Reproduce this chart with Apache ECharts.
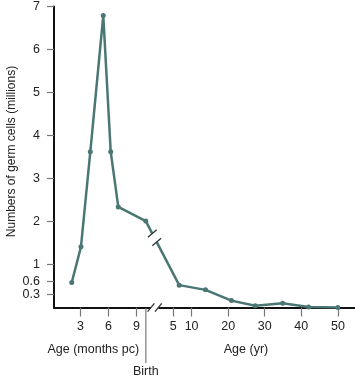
<!DOCTYPE html>
<html><head><meta charset="utf-8">
<script src="https://cdn.jsdelivr.net/npm/echarts@6/dist/echarts.min.js"></script>
<style>html,body{margin:0;padding:0;background:#fff}#c{width:355px;height:379px}</style>
</head><body><div id="c"></div>
<script>
// ---- data ----
const prenatalMonths = [2.06, 3.05, 4.05, 5.44, 6.24, 7.05, 10];
const prenatalCells  = [0.58, 1.41, 3.62, 6.79, 3.62, 2.34, 2.01];
const postnatalYears = [6.6, 13.8, 20.9, 27.4, 34.9, 42, 50];
const postnatalCells = [0.52, 0.41, 0.16, 0.04, 0.10, 0.01, 0.0];
const monthTicks = [3, 6, 9];
const yearTicks  = [5, 10, 20, 30, 40, 50];
const yTicks     = [0.3, 0.6, 1, 2, 3, 4, 5, 6, 7];
const birthMonth = 10;

// ---- broken x axis: months on the left, years on the right ----
const YEAR_OFFSET = 10.99, YEAR_SCALE = 0.3919, BREAK_AT = 10.95;
const yrPos = v => YEAR_OFFSET + v * YEAR_SCALE;

const xTickList = monthTicks.map(m => ({v: m, t: String(m)}))
  .concat(yearTicks.map(y => ({v: yrPos(y), t: String(y)})));
const xTickValues = xTickList.map(d => d.v);
function xLabel(val) {
  let best = xTickList[0];
  xTickList.forEach(d => { if (Math.abs(d.v - val) < Math.abs(best.v - val)) best = d; });
  return best.t;
}

const lineData = prenatalMonths.map((m, i) => [m, prenatalCells[i]])
  .concat(postnatalYears.map((y, i) => [yrPos(y), postnatalCells[i]]));

const FONT = '"Liberation Sans", Arial, sans-serif';
const TXT = '#222';
const LINE = '#4a7674';

const chart = echarts.init(document.getElementById('c'), null, {renderer: 'canvas'});
chart.setOption({
  animation: false,
  backgroundColor: '#fff',
  grid: {left: 54, right: 0, top: 6, bottom: 71.5, containLabel: false},
  xAxis: {
    type: 'value', min: 0.16, max: 32.42,
    axisLine: {show: true, lineStyle: {color: '#111', width: 2}},
    axisTick: {show: true, customValues: xTickValues, length: 9, inside: false, lineStyle: {color: '#777', width: 1.2}},
    axisLabel: {customValues: xTickValues, formatter: xLabel, margin: 13,
      fontFamily: FONT, fontSize: 12.5, color: TXT},
    splitLine: {show: false}
  },
  yAxis: {
    type: 'value', min: 0, max: 7,
    axisLine: {show: true, lineStyle: {color: '#111', width: 2}},
    axisTick: {show: true, customValues: yTicks, length: 7, lineStyle: {color: '#777', width: 1.2}},
    axisLabel: {customValues: yTicks, margin: 14, fontFamily: FONT, fontSize: 12.5, color: TXT},
    splitLine: {show: false}
  },
  series: [{
    type: 'line', data: lineData,
    symbol: 'circle', symbolSize: 5, showSymbol: true,
    lineStyle: {color: LINE, width: 2.5},
    itemStyle: {color: LINE},
    z: 3
  }]
});

// ---- decorations placed through the chart's own coordinate system ----
const px = p => chart.convertToPixel({gridIndex: 0}, p);
const birthPt = px([birthMonth, 0]);
const axisY = birthPt[1];
const brk = px([BREAK_AT, 0]);
const pA = px(lineData[prenatalMonths.length - 1]);
const pB = px(lineData[prenatalMonths.length]);
const t = 0.26;
const gc = [pA[0] + (pB[0] - pA[0]) * t, pA[1] + (pB[1] - pA[1]) * t];
const len = Math.hypot(pB[0] - pA[0], pB[1] - pA[1]);
const ud = [(pB[0] - pA[0]) / len, (pB[1] - pA[1]) / len];
const h = [4.4, -3.7];
const c1 = [gc[0] - ud[0] * 4.75, gc[1] - ud[1] * 4.75];
const c2 = [gc[0] + ud[0] * 4.75, gc[1] + ud[1] * 4.75];
const ah = [3.4, -4.2];
const a1 = [brk[0] - 3.7, axisY];
const a2 = [brk[0] + 3.7, axisY];
const SL = {stroke: '#333', lineWidth: 1.3};

chart.setOption({
  graphic: [
    {type: 'line', shape: {x1: birthPt[0], y1: axisY + 1, x2: birthPt[0], y2: 363}, style: {stroke: '#999', lineWidth: 1.6}, z: 10},
    {type: 'text', x: birthPt[0], y: 372, style: {text: 'Birth', font: '12.5px ' + FONT, fill: TXT, align: 'center', verticalAlign: 'middle'}, z: 10},
    {type: 'rect', shape: {x: a1[0], y: axisY - 2.5, width: a2[0] - a1[0], height: 5}, style: {fill: '#fff'}, z: 10},
    {type: 'line', shape: {x1: a1[0] - ah[0], y1: a1[1] - ah[1], x2: a1[0] + ah[0], y2: a1[1] + ah[1]}, style: SL, z: 11},
    {type: 'line', shape: {x1: a2[0] - ah[0], y1: a2[1] - ah[1], x2: a2[0] + ah[0], y2: a2[1] + ah[1]}, style: SL, z: 11},
    {type: 'polygon', shape: {points: [[c1[0] - h[0], c1[1] - h[1]], [c1[0] + h[0], c1[1] + h[1]], [c2[0] + h[0], c2[1] + h[1]], [c2[0] - h[0], c2[1] - h[1]]]}, style: {fill: '#fff'}, z: 10},
    {type: 'line', shape: {x1: c1[0] - h[0], y1: c1[1] - h[1], x2: c1[0] + h[0], y2: c1[1] + h[1]}, style: SL, z: 11},
    {type: 'line', shape: {x1: c2[0] - h[0], y1: c2[1] - h[1], x2: c2[0] + h[0], y2: c2[1] + h[1]}, style: SL, z: 11},
    {type: 'text', x: 93.3, y: 350, style: {text: 'Age (months pc)', font: '12.5px ' + FONT, fill: TXT, align: 'center', verticalAlign: 'middle'}, z: 10},
    {type: 'text', x: 246, y: 350, style: {text: 'Age (yr)', font: '12.5px ' + FONT, fill: TXT, align: 'center', verticalAlign: 'middle'}, z: 10},
    {type: 'text', x: 12, y: 151.5, rotation: Math.PI / 2, style: {text: 'Numbers of germ cells (millions)', font: '12px ' + FONT, fill: TXT, align: 'center', verticalAlign: 'middle'}, z: 10}
  ]
});
</script></body></html>
